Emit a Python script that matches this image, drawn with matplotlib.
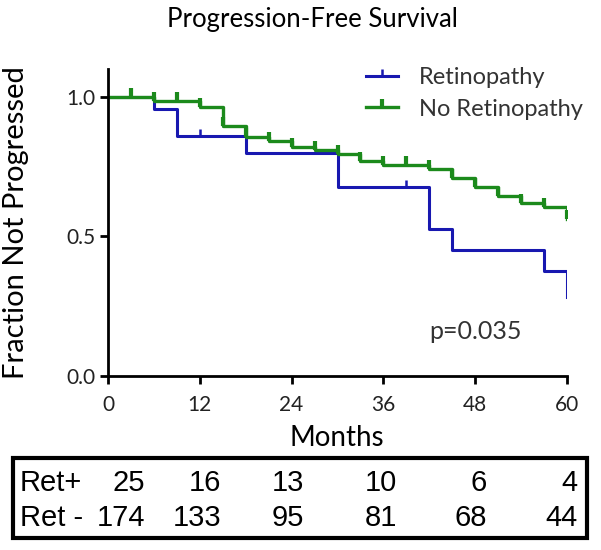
import numpy as np
import matplotlib
matplotlib.use("Agg")
import matplotlib.pyplot as plt
from matplotlib.patches import Rectangle
from matplotlib.lines import Line2D

# Kaplan-Meier step data
ret_times = [0, 6, 9, 18, 30, 42, 45, 57, 60]
ret_surv = [1.0, 0.955, 0.86, 0.80, 0.677, 0.525, 0.45, 0.375, 0.284]
ret_censor = [12, 39]

noret_times = [0, 6, 12, 15, 18, 21, 24, 27, 30, 33, 36, 42, 45, 48, 51, 54, 57, 60]
noret_surv = [1.0, 0.985, 0.965, 0.897, 0.856, 0.843, 0.82, 0.81, 0.795, 0.77,
              0.757, 0.74, 0.71, 0.677, 0.645, 0.619, 0.605, 0.563]
noret_censor = [3, 6, 9, 12, 15, 18, 21, 24, 27, 30, 33, 36, 39, 42, 45, 48, 51, 54, 57, 60]

# numbers at risk
risk_labels = ["Ret+", "Ret -"]
risk_ret = [25, 16, 13, 10, 6, 4]
risk_noret = [174, 133, 95, 81, 68, 44]

xticks = [0, 12, 24, 36, 48, 60]
yticks = [0.0, 0.5, 1.0]

BLUE = "#1818b0"
GREEN = "#1c8a1c"
FONT = "Lato"
W, H = 601, 550


def surv_at(times, surv, t):
    i = np.searchsorted(times, t, side="right") - 1
    return surv[i]


fig = plt.figure(figsize=(W / 100, H / 100), dpi=100)
ax = fig.add_axes([108 / W, 1 - 376 / H, 459 / W, 307 / H])

ax.step(ret_times, ret_surv, where="post", color=BLUE, lw=2.2)
ax.step(noret_times, noret_surv, where="post", color=GREEN, lw=2.4)

ax.plot(ret_censor, [surv_at(ret_times, ret_surv, t) for t in ret_censor],
        ls="none", marker=2, ms=5, mew=1.8, color=BLUE)
ax.plot(noret_censor, [surv_at(noret_times, noret_surv, t) for t in noret_censor],
        ls="none", marker=2, ms=6.5, mew=3, color=GREEN)

ax.set_xlim(0, 60)
ax.set_ylim(0, 1.1)
ax.set_xticks(xticks)
ax.set_yticks(yticks)
ax.set_yticklabels([f"{v:.1f}" for v in yticks])
for s in ["top", "right"]:
    ax.spines[s].set_visible(False)
for s in ["left", "bottom"]:
    ax.spines[s].set_linewidth(2)
ax.tick_params(width=2, length=6, labelsize=15, colors="black")
ax.tick_params(axis="x", pad=8)
ax.tick_params(axis="y", pad=3)
for lab in ax.get_xticklabels() + ax.get_yticklabels():
    lab.set_fontfamily(FONT)
    lab.set_color("#222222")

ax.set_ylabel("Fraction Not Progressed", fontsize=21, family=FONT)
ax.yaxis.set_label_coords((29 - 108) / 459, 0.5)
fig.text(312 / W, 1 - 20 / H, "Progression-Free Survival", ha="center", va="center",
         fontsize=18.5, family=FONT)

handles = [Line2D([], [], color=BLUE, lw=2.2, marker=2, ms=5, mew=1.8),
           Line2D([], [], color=GREEN, lw=2.4, marker=2, ms=6, mew=3)]
leg = fig.legend(handles, ["Retinopathy", "No Retinopathy"], loc="upper left",
                 bbox_to_anchor=(366 / W, 1 - 67 / H), frameon=False, handlelength=1.36,
                 handletextpad=0.9, labelspacing=0.45, borderpad=0, borderaxespad=0,
                 prop={"family": FONT, "size": 17})
for t in leg.get_texts():
    t.set_color("#333333")

ax.text(48, 0.16, "p=0.035", fontsize=18, family=FONT, color="#333333",
        ha="center", va="center")

# Months label and risk table
fig.text(337 / W, 1 - 438 / H, "Months", ha="center", va="center", fontsize=20, family=FONT)
fig.patches.append(Rectangle((13 / W, 1 - 538 / H), 574 / W, 80 / H,
                             transform=fig.transFigure, fill=False, lw=3, ec="black"))
col_right = [145, 221, 304, 397, 487, 578]
row_y = [1 - 483 / H, 1 - 518 / H]
for r, (lab, vals) in enumerate(zip(risk_labels, [risk_ret, risk_noret])):
    fig.text(20 / W, row_y[r], lab, ha="left", va="center", fontsize=21,
             family="Liberation Sans")
    for xr, v in zip(col_right, vals):
        fig.text(xr / W, row_y[r], str(v), ha="right", va="center", fontsize=21,
                 family="Liberation Sans")

fig.savefig("out.png", dpi=100)
